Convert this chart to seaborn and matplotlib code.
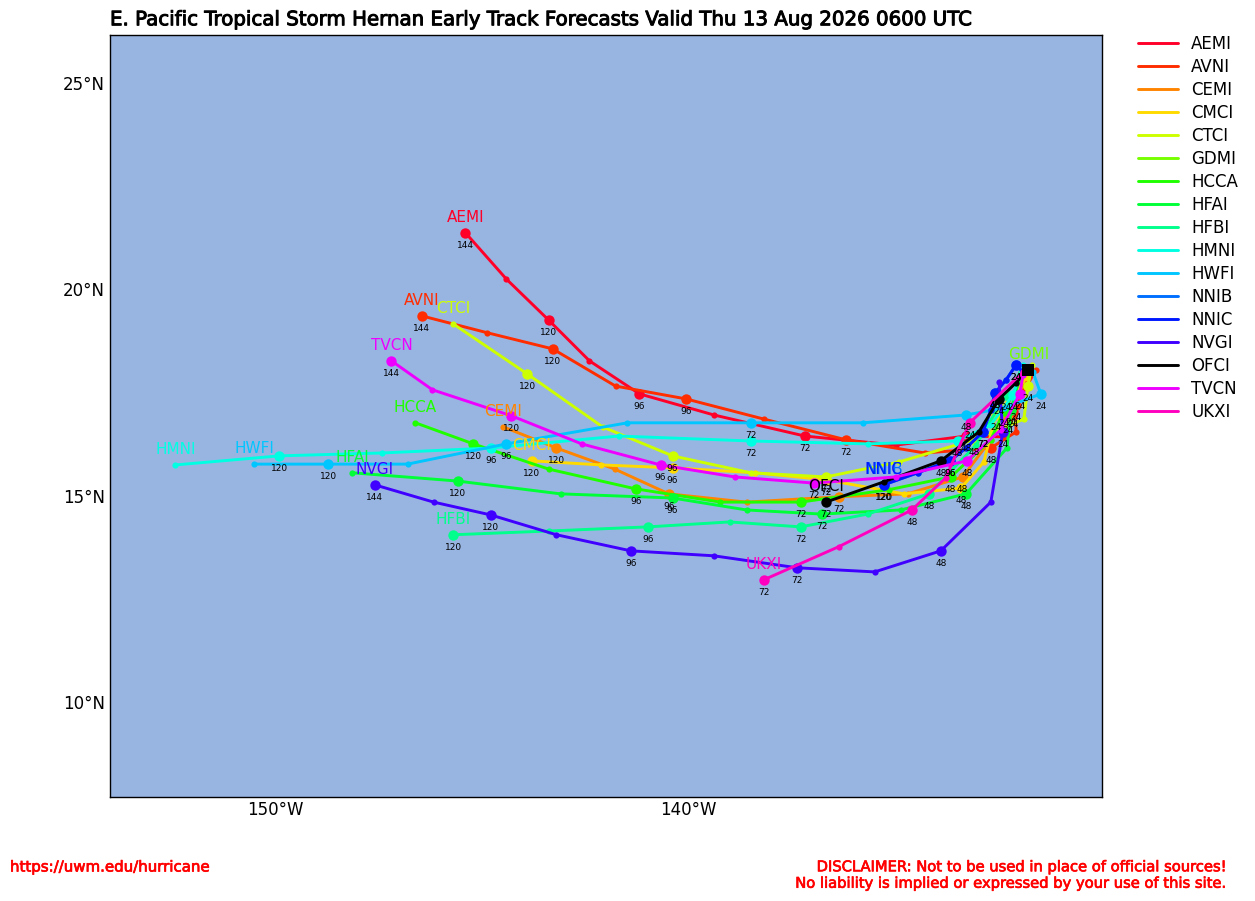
# -------------------------------
# Hernan early track forecasts
# -------------------------------

import numpy as np
import pandas as pd
import matplotlib
matplotlib.use("Agg")
import matplotlib.pyplot as plt
import matplotlib.patheffects as pe
import seaborn as sns

# -------------------------------
# Data: lon/lat every 12 h, from 12 h out
# -------------------------------
AEMI_lon = [-131.72, -132.15, -132.35, -133.29, -134.99, -137.19, -139.39, -141.19, -142.40, -143.39, -144.41, -145.40]
AEMI_lat = [18.00, 17.03, 16.43, 16.45, 16.23, 16.45, 16.96, 17.47, 18.27, 19.26, 20.25, 21.37]
AVNI_lon = [-131.60, -132.08, -132.08, -132.69, -134.29, -136.20, -138.18, -140.07, -141.77, -143.29, -144.87, -146.46]
AVNI_lat = [18.05, 17.20, 16.55, 16.16, 16.04, 16.36, 16.86, 17.35, 17.66, 18.56, 18.95, 19.36]
CEMI_lon = [-131.91, -132.28, -132.69, -133.37, -134.70, -136.37, -138.60, -140.48, -141.79, -143.20, -144.48]
CEMI_lat = [17.69, 16.89, 16.36, 15.46, 15.05, 14.98, 14.85, 15.05, 15.65, 16.16, 16.67]
CMCI_lon = [-131.82, -132.57, -132.86, -133.41, -134.79, -136.68, -138.40, -140.39, -142.11, -143.80]
CMCI_lat = [17.86, 16.96, 15.82, 15.19, 15.05, 15.39, 15.56, 15.68, 15.75, 15.85]
CTCI_lon = [-131.70, -131.79, -131.89, -133.10, -134.92, -136.68, -138.50, -140.39, -142.08, -143.90, -145.69]
CTCI_lat = [18.17, 17.66, 16.86, 16.36, 15.82, 15.46, 15.56, 15.97, 16.67, 17.95, 19.16]
GDMI_lon = [-131.77]
GDMI_lat = [18.05]
HCCA_lon = [-131.84, -132.37, -132.69, -133.66, -135.16, -137.29, -139.23, -141.28, -143.39, -145.21, -146.61]
HCCA_lat = [18.05, 17.06, 16.36, 15.46, 15.15, 14.85, 14.85, 15.17, 15.65, 16.26, 16.77]
HFAI_lon = [-131.96, -132.20, -132.30, -133.29, -134.87, -136.78, -138.60, -140.39, -143.10, -145.59, -148.14]
HFAI_lat = [18.00, 17.08, 16.16, 15.05, 14.66, 14.56, 14.66, 14.95, 15.05, 15.36, 15.56]
HFBI_lon = [-131.91, -132.32, -133.05, -134.19, -135.67, -137.29, -139.01, -140.99, -143.39, -145.69]
HFBI_lat = [18.10, 17.45, 16.23, 15.05, 14.56, 14.25, 14.37, 14.25, 14.15, 14.06]
HMNI_lon = [-131.91, -132.15, -132.69, -133.49, -135.67, -138.50, -141.69, -144.79, -147.41, -149.90, -152.42]
HMNI_lat = [18.17, 17.45, 16.72, 16.33, 16.26, 16.33, 16.45, 16.16, 16.04, 15.97, 15.75]
HWFI_lon = [-131.67, -131.48, -132.37, -133.29, -135.79, -138.50, -141.48, -144.41, -146.80, -148.72, -150.51]
HWFI_lat = [18.00, 17.47, 17.13, 16.96, 16.77, 16.77, 16.77, 16.26, 15.77, 15.77, 15.77]
NNIB_lon = [-131.91, -132.08, -132.32, -132.59, -132.69, -132.88, -133.29, -133.68, -134.46, -135.27]
NNIB_lat = [18.00, 18.17, 17.81, 17.49, 17.08, 16.55, 16.16, 15.85, 15.56, 15.27]
NNIC_lon = [-131.91, -132.08, -132.32, -132.59, -132.69, -132.88, -133.29, -133.68, -134.46, -135.28]
NNIC_lat = [18.00, 18.17, 17.81, 17.49, 17.08, 16.55, 16.16, 15.85, 15.56, 15.27]
NVGI_lon = [-132.49, -132.40, -132.69, -133.90, -135.50, -137.38, -139.39, -141.40, -143.20, -144.79, -146.17, -147.60]
NVGI_lat = [17.76, 16.55, 14.85, 13.67, 13.16, 13.26, 13.55, 13.67, 14.06, 14.54, 14.85, 15.27]
OFCI_lon = [-132.08, -132.49, -132.98, -133.90, -135.28, -136.68]
OFCI_lat = [17.74, 17.35, 16.55, 15.85, 15.34, 14.85]
TVCN_lon = [-131.91, -131.99, -132.45, -133.27, -134.99, -136.97, -138.89, -140.68, -142.59, -144.29, -146.20, -147.19]
TVCN_lat = [17.93, 17.47, 16.60, 15.85, 15.46, 15.31, 15.46, 15.75, 16.26, 16.94, 17.57, 18.27]
UKXI_lon = [-131.91, -133.20, -133.78, -134.60, -136.37, -138.18]
UKXI_lat = [18.00, 16.77, 15.44, 14.66, 13.77, 12.97]

# current position of the storm
start_lon = [-131.79]
start_lat = [18.05]

models = ["AEMI", "AVNI", "CEMI", "CMCI", "CTCI", "GDMI", "HCCA", "HFAI", "HFBI",
          "HMNI", "HWFI", "NNIB", "NNIC", "NVGI", "OFCI", "TVCN", "UKXI"]
lons = [AEMI_lon, AVNI_lon, CEMI_lon, CMCI_lon, CTCI_lon, GDMI_lon, HCCA_lon, HFAI_lon, HFBI_lon,
        HMNI_lon, HWFI_lon, NNIB_lon, NNIC_lon, NVGI_lon, OFCI_lon, TVCN_lon, UKXI_lon]
lats = [AEMI_lat, AVNI_lat, CEMI_lat, CMCI_lat, CTCI_lat, GDMI_lat, HCCA_lat, HFAI_lat, HFBI_lat,
        HMNI_lat, HWFI_lat, NNIB_lat, NNIC_lat, NVGI_lat, OFCI_lat, TVCN_lat, UKXI_lat]

# -------------------------------
# Figure setup
# -------------------------------
sns.set_style("white")
plt.rcParams["font.family"] = "DejaVu Sans"
plt.rcParams["text.color"] = "black"
plt.rcParams["xtick.color"] = "black"
plt.rcParams["ytick.color"] = "black"

fig = plt.figure(figsize=(12.55, 9.01), dpi=100)
ax = fig.add_axes([110 / 1255, 1 - 797 / 901, 992 / 1255, 762 / 901])
ax.set_facecolor("#98b5e2")

colors = sns.color_palette(plt.cm.gist_rainbow(np.linspace(0, 1, len(models))))
colors[models.index("OFCI")] = (0, 0, 0)

# -------------------------------
# Tracks
# -------------------------------
for i, name in enumerate(models):
    df = pd.DataFrame({"lon": lons[i], "lat": lats[i]})
    df["hour"] = 12 * (df.index + 1)
    if name == "OFCI":
        df = pd.concat([pd.DataFrame({"lon": start_lon, "lat": start_lat, "hour": [0]}), df])
    col = colors[i]
    z = 3 + i * 0.1

    sns.lineplot(data=df, x="lon", y="lat", sort=False, estimator=None, color=col,
                 linewidth=2.1, label=name, ax=ax, zorder=z)

    big = df[(df["hour"] % 24 == 0) & (df["hour"] > 0)]
    small = df[df["hour"] % 24 != 0]
    sns.scatterplot(data=small, x="lon", y="lat", color=col, s=20, linewidth=0,
                    legend=False, ax=ax, zorder=z)
    sns.scatterplot(data=big, x="lon", y="lat", color=col, s=56, linewidth=0,
                    legend=False, ax=ax, zorder=z)

    for _, row in big.iterrows():
        ax.annotate(str(int(row["hour"])), (row["lon"], row["lat"]), xytext=(0, -9),
                    textcoords="offset points", ha="center", va="center",
                    fontsize=6.5, color="black", zorder=10)

    last = df.iloc[-1]
    ax.annotate(name, (last["lon"], last["lat"]), xytext=(0, 11),
                textcoords="offset points", ha="center", va="center",
                fontsize=11, color=col, zorder=11)

# storm position
sns.scatterplot(x=start_lon, y=start_lat, color="black", marker="s", s=80, linewidth=0,
                legend=False, ax=ax, zorder=9)

# -------------------------------
# Axes and text
# -------------------------------
ax.set_xlim(-154, -130)
ax.set_ylim(7.71, 26.16)
ax.set_xticks([-150, -140])
ax.set_xticklabels(["150°W", "140°W"])
ax.set_yticks([10, 15, 20, 25])
ax.set_yticklabels(["10°N", "15°N", "20°N", "25°N"])
ax.set_xlabel("")
ax.set_ylabel("")
ax.tick_params(axis="y", length=0, labelsize=12, pad=3.5)
ax.tick_params(axis="x", length=0, labelsize=12, pad=3)
for spine in ax.spines.values():
    spine.set_visible(True)
    spine.set_color("black")
    spine.set_linewidth(1.0)

stroke = [pe.withStroke(linewidth=0.7, foreground="black")]
ax.set_title("E. Pacific Tropical Storm Hernan Early Track Forecasts Valid Thu 13 Aug 2026 0600 UTC",
             loc="left", fontsize=14.26, pad=7, path_effects=stroke)

ax.legend(loc="upper left", bbox_to_anchor=(1.036, 1.0), frameon=False, fontsize=12,
          handlelength=2.4, labelspacing=0.3, borderaxespad=0, borderpad=0)

red_stroke = [pe.withStroke(linewidth=0.5, foreground="red")]
fig.text(10 / 1255, 1 - 867 / 901, "https://uwm.edu/hurricane", color="red",
         fontsize=10.8, va="center", path_effects=red_stroke)
fig.text(1230 / 1255, 1 - 875 / 901,
         "DISCLAIMER: Not to be used in place of official sources!\n"
         "No liability is implied or expressed by your use of this site.",
         color="red", fontsize=10.6, ha="right", va="center", linespacing=1.12,
         path_effects=red_stroke)

plt.savefig("out.png", dpi=100)
